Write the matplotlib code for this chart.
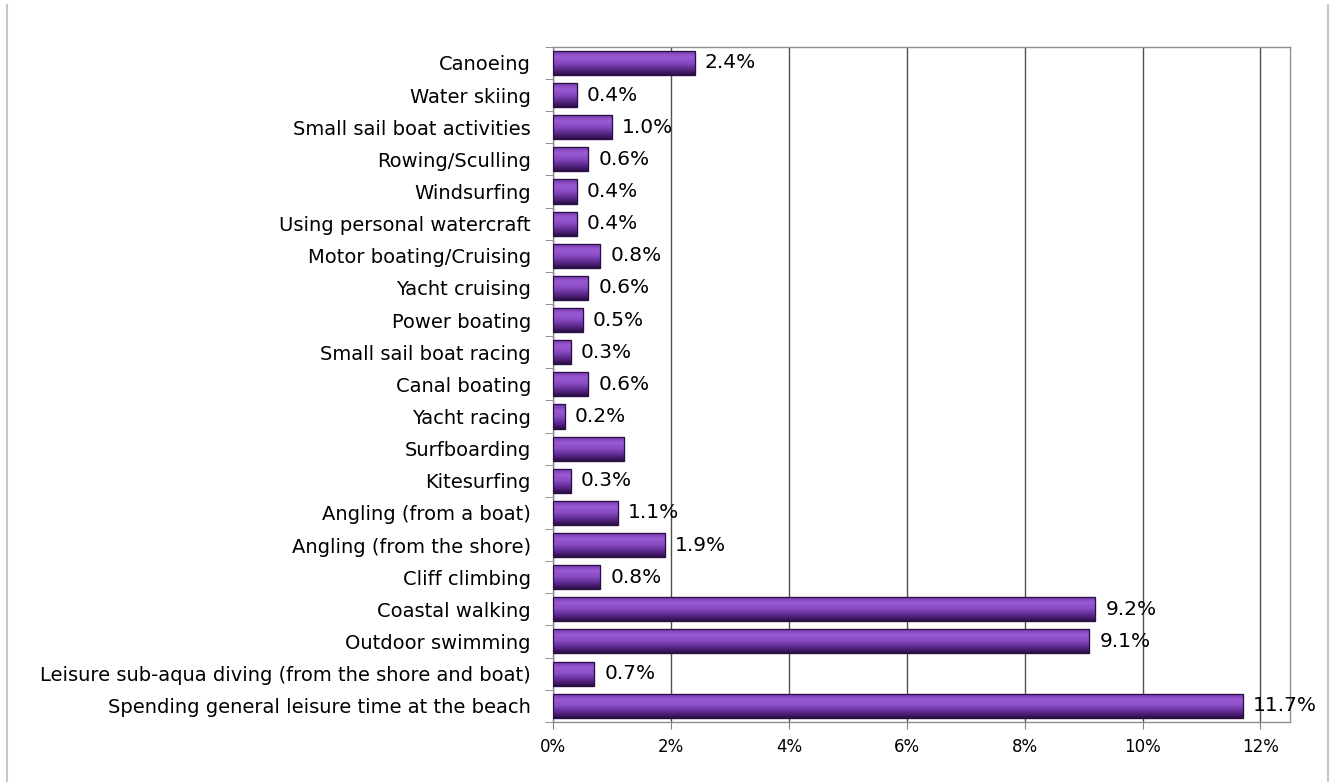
import numpy as np
import matplotlib.pyplot as plt
from matplotlib.patches import Rectangle
from matplotlib.lines import Line2D
from matplotlib.colors import LinearSegmentedColormap

activities = [
    "Canoeing", "Water skiing", "Small sail boat activities", "Rowing/Sculling",
    "Windsurfing", "Using personal watercraft", "Motor boating/Cruising",
    "Yacht cruising", "Power boating", "Small sail boat racing", "Canal boating",
    "Yacht racing", "Surfboarding", "Kitesurfing", "Angling (from a boat)",
    "Angling (from the shore)", "Cliff climbing", "Coastal walking",
    "Outdoor swimming", "Leisure sub-aqua diving (from the shore and boat)",
    "Spending general leisure time at the beach",
]
share = [2.4, 0.4, 1.0, 0.6, 0.4, 0.4, 0.8, 0.6, 0.5, 0.3, 0.6, 0.2, 1.2,
         0.3, 1.1, 1.9, 0.8, 9.2, 9.1, 0.7, 11.7]
# surfboarding has no value label in the original
show_label = [True] * len(share)
show_label[12] = False
xticks = [0, 2, 4, 6, 8, 10, 12]

fig = plt.figure(figsize=(13.36, 7.82), dpi=100)
ax = fig.add_axes([0.414, 0.077, 0.5515, 0.863])

y = np.arange(len(activities))
bars = ax.barh(y, share, height=0.75, color="#6f35a5", edgecolor="#2a0f45",
               linewidth=0.8, zorder=3)

# vertical gradient on each bar, like the Excel bevel
grad = np.linspace(0, 1, 64).reshape(-1, 1)
cmap = LinearSegmentedColormap.from_list(
    "bar", ["#6f33a8", "#9a5ad2", "#8a4cc4", "#5e2a8f", "#2e0f47"])
for b in bars:
    x0, y0 = b.get_x(), b.get_y()
    w, h = b.get_width(), b.get_height()
    im = ax.imshow(grad, extent=[x0, x0 + w, y0 + h, y0], aspect="auto",
                   cmap=cmap, zorder=3.5, interpolation="bilinear")
    im.set_clip_path(b)
    ax.add_patch(Rectangle((x0, y0), w, h, fill=False, edgecolor="#2a0f45",
                           linewidth=0.9, zorder=4))

for yi, v, lab in zip(y, share, show_label):
    if lab:
        ax.text(v + 0.17, yi, f"{v:.1f}%", va="center", ha="left",
                fontsize=14.5, color="black", zorder=5)

ax.set_xlim(0, 12.5)
ax.set_ylim(len(activities) - 0.5, -0.5)
ax.set_xticks(xticks)
ax.set_xticklabels([f"{t}%" for t in xticks], fontsize=12)
ax.set_yticks(y)
ax.set_yticklabels(activities, fontsize=14)
ax.set_yticks(np.arange(len(activities) + 1) - 0.5, minor=True)
ax.tick_params(axis="y", which="major", length=0, pad=16)
ax.tick_params(axis="y", which="minor", length=6, color="#808080")
ax.tick_params(axis="x", length=5, color="#808080", pad=7)

ax.grid(axis="x", color="#505050", linewidth=1.0, zorder=0)
for side in ["top", "right", "bottom", "left"]:
    ax.spines[side].set_color("#909090")
    ax.spines[side].set_linewidth(1.0)

# light side borders of the chart area
for xf in (0.0055, 0.994):
    fig.add_artist(Line2D([xf, xf], [0, 0.993], transform=fig.transFigure,
                          color="#c8c8c8", linewidth=1.5))

fig.savefig("out.png", dpi=100)
